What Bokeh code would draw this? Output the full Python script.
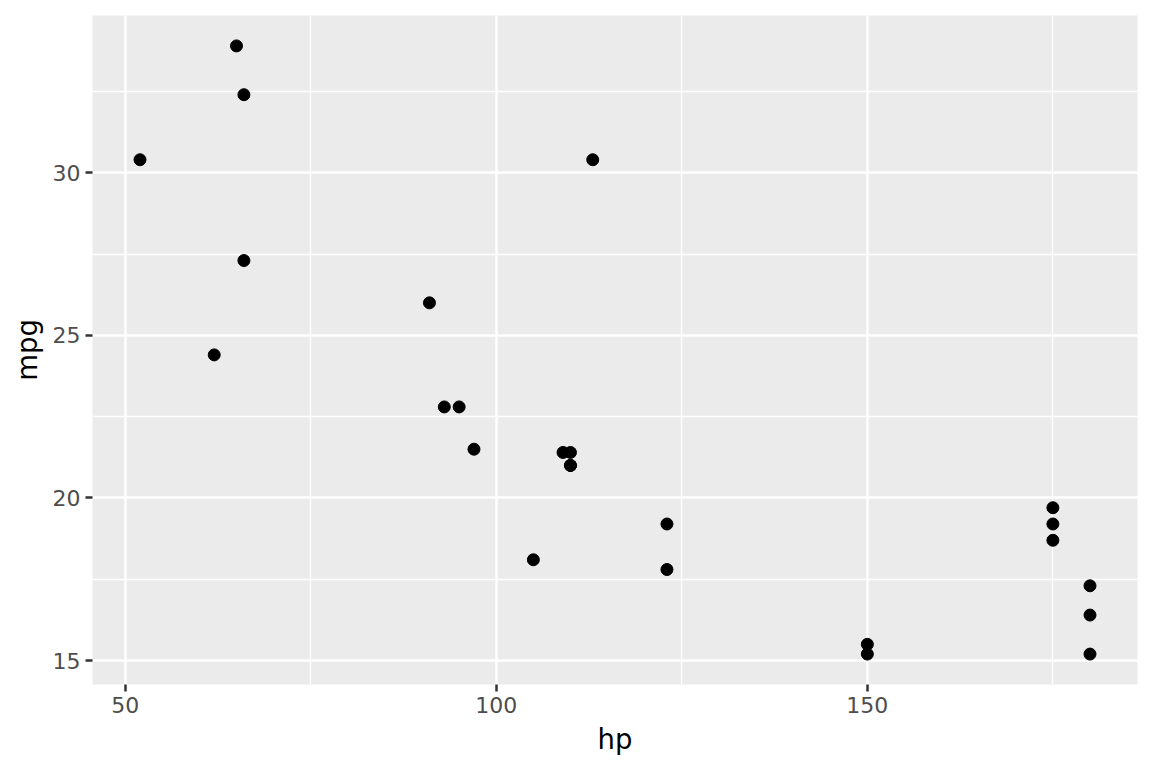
from bokeh.plotting import figure
from bokeh.models import Range1d, FixedTicker, ColumnDataSource
from bokeh.embed import file_html
from bokeh.resources import INLINE

hp = [110, 110, 93, 110, 175, 105, 62, 95, 123, 123, 180, 180, 180,
      66, 52, 65, 97, 150, 150, 175, 66, 91, 113, 175, 109]
mpg = [21.0, 21.0, 22.8, 21.4, 18.7, 18.1, 24.4, 22.8, 19.2, 17.8, 16.4, 17.3, 15.2,
       32.4, 30.4, 33.9, 21.5, 15.5, 15.2, 19.2, 27.3, 26.0, 30.4, 19.7, 21.4]
x_ticks = [50, 100, 150]
x_minor = [75, 125, 175]
y_ticks = [15, 20, 25, 30]
y_minor = [17.5, 22.5, 27.5, 32.5]

xr = max(hp) - min(hp)
yr = max(mpg) - min(mpg)

p = figure(width=1152, height=768, output_backend="svg", toolbar_location=None,
           x_range=Range1d(min(hp) - 0.05 * xr, max(hp) + 0.05 * xr),
           y_range=Range1d(min(mpg) - 0.05 * yr, max(mpg) + 0.05 * yr),
           min_border_left=92, min_border_right=15, min_border_top=15, min_border_bottom=84)
p.background_fill_color = "#EBEBEB"
p.border_fill_color = "white"
p.outline_line_color = None

for ax, ticks, minor in ((p.xaxis[0], x_ticks, x_minor), (p.yaxis[0], y_ticks, y_minor)):
    ax.ticker = FixedTicker(ticks=ticks, minor_ticks=minor)
    ax.axis_line_color = None
    ax.major_tick_line_color = "#333333"
    ax.major_tick_line_width = 2.5
    ax.major_tick_out = 7
    ax.major_tick_in = 0
    ax.minor_tick_line_color = None
    ax.major_label_text_font = "DejaVu Sans"
    ax.major_label_text_font_size = "22px"
    ax.major_label_text_color = "#4D4D4D"
    ax.major_label_standoff = 5
    ax.axis_label_text_font = "DejaVu Sans"
    ax.axis_label_text_font_size = "27.5px"
    ax.axis_label_text_font_style = "normal"
    ax.axis_label_text_color = "black"
    ax.axis_label_standoff = 7

p.xaxis.axis_label = "hp"
p.yaxis.axis_label = "mpg"

for g in (p.xgrid[0], p.ygrid[0]):
    g.grid_line_color = "white"
    g.grid_line_width = 2.5
    g.minor_grid_line_color = "white"
    g.minor_grid_line_width = 1.3

src = ColumnDataSource(dict(hp=hp, mpg=mpg))
p.scatter("hp", "mpg", source=src, size=12, color="black")

open("out.html", "w").write(file_html(p, INLINE))
